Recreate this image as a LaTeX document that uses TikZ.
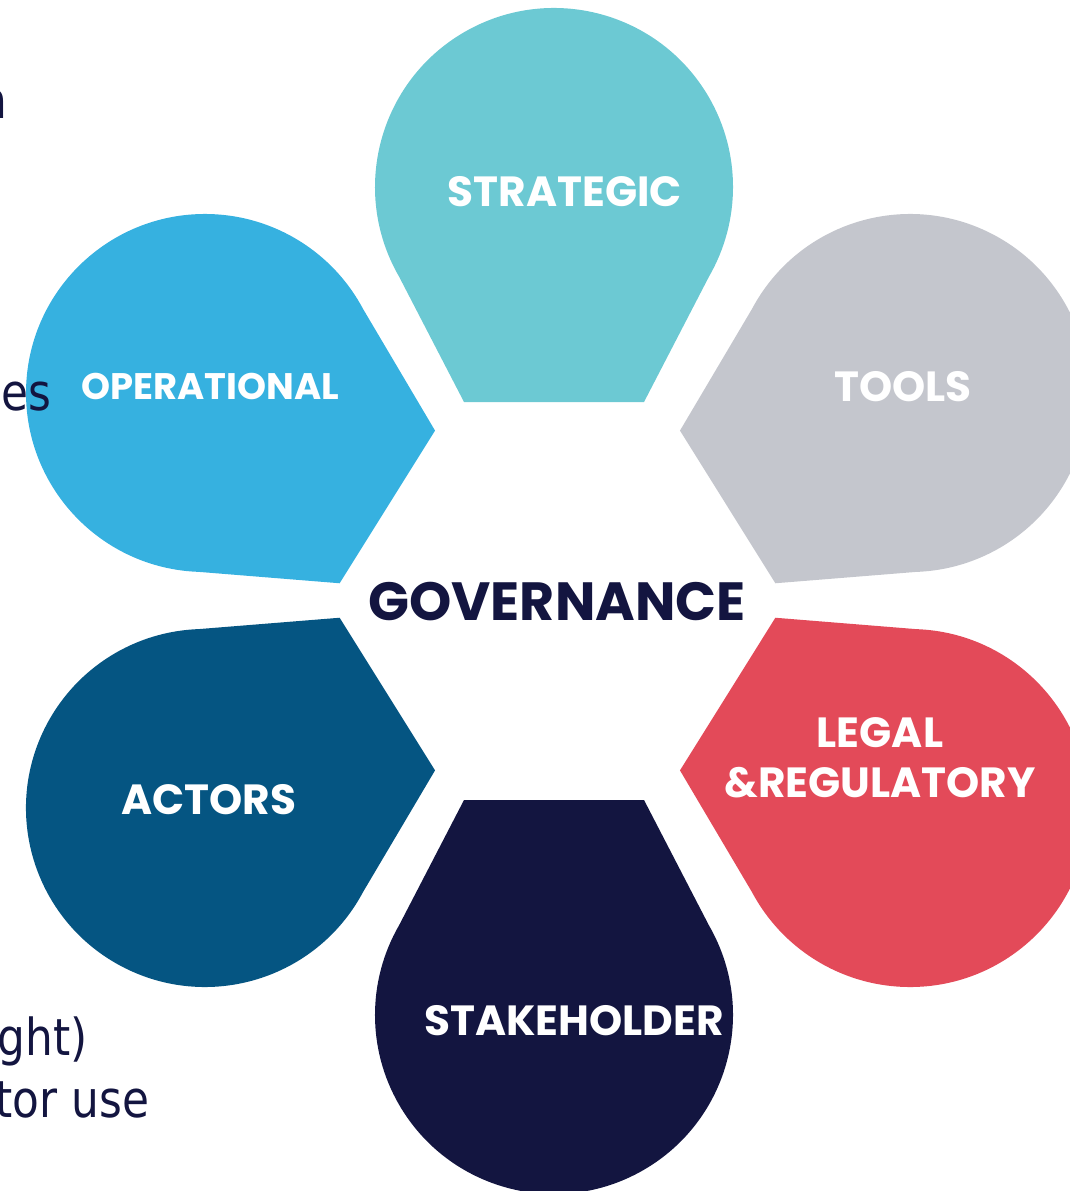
\documentclass[tikz,border=0pt]{standalone}
\usepackage{fontspec}
\usepackage{xcolor}
\setmainfont{DejaVu Sans}[FakeStretch=0.86]
\newfontfamily\poppins{Poppins}
\definecolor{strategic}{HTML}{6CC9D3}
\definecolor{operational}{HTML}{36B1E0}
\definecolor{tools}{HTML}{C4C6CD}
\definecolor{actors}{HTML}{055582}
\definecolor{legal}{HTML}{E34A59}
\definecolor{navy}{HTML}{131540}

\begin{document}
\begin{tikzpicture}[x=0.01cm,y=-0.01cm,
        petaltext/.style={text=white,inner sep=0pt,font=\poppins\bfseries\fontsize{12}{14.2}\selectfont},
        sidetext/.style={text=navy,inner sep=0pt,anchor=base east,font=\fontsize{14.5}{17}\selectfont}]
        \useasboundingbox (0,0) rectangle (1070,1191);
        % petals: circle centre, tip turned to the middle
        \fill [strategic,shift={(554,187)},rotate=-90] (215,-90) -- (215,90) -- (89.5,155) arc[start angle=60,end angle=300,radius=179] -- cycle;
        \fill [operational,shift={(205,393)},rotate=-32] (215,-90) -- (215,90) -- (89.5,155) arc[start angle=60,end angle=300,radius=179] -- cycle;
        \fill [tools,shift={(910,393)},rotate=212] (215,-90) -- (215,90) -- (89.5,155) arc[start angle=60,end angle=300,radius=179] -- cycle;
        \fill [actors,shift={(205,808)},rotate=32] (215,-90) -- (215,90) -- (89.5,155) arc[start angle=60,end angle=300,radius=179] -- cycle;
        \fill [legal,shift={(910,808)},rotate=148] (215,-90) -- (215,90) -- (89.5,155) arc[start angle=60,end angle=300,radius=179] -- cycle;
        \fill [navy,shift={(554,1015)},rotate=90] (215,-90) -- (215,90) -- (89.5,155) arc[start angle=60,end angle=300,radius=179] -- cycle;
        \node [petaltext] (strat) at (565,192) {STRATEGIC};
        \node [petaltext,font=\poppins\bfseries\fontsize{10.5}{13}\selectfont] (oper) at (210,386) {OPERATIONAL};
        \node [petaltext] (tool) at (903,387) {TOOLS};
        \node [petaltext] (act) at (209,800) {ACTORS};
        \node [petaltext,align=center] (legreg) at (880,758) {LEGAL\\\&REGULATORY};
        \node [petaltext] (stake) at (574,1021) {STAKEHOLDER};
        \node [inner sep=0pt,text=navy,font=\poppins\bfseries\fontsize{15.3}{18}\selectfont] (gov) at (557,602) {GOVERNANCE};
        % cut-off slide text on the left
        \node [sidetext] (side1) at (8,119) {n};
        \node [sidetext] (side2) at (52,410) {es};
        \node [sidetext] (side3) at (88,1055) {ght)};
        \node [sidetext] (side4) at (150,1117) {tor use};
    \end{tikzpicture}
\end{document}
